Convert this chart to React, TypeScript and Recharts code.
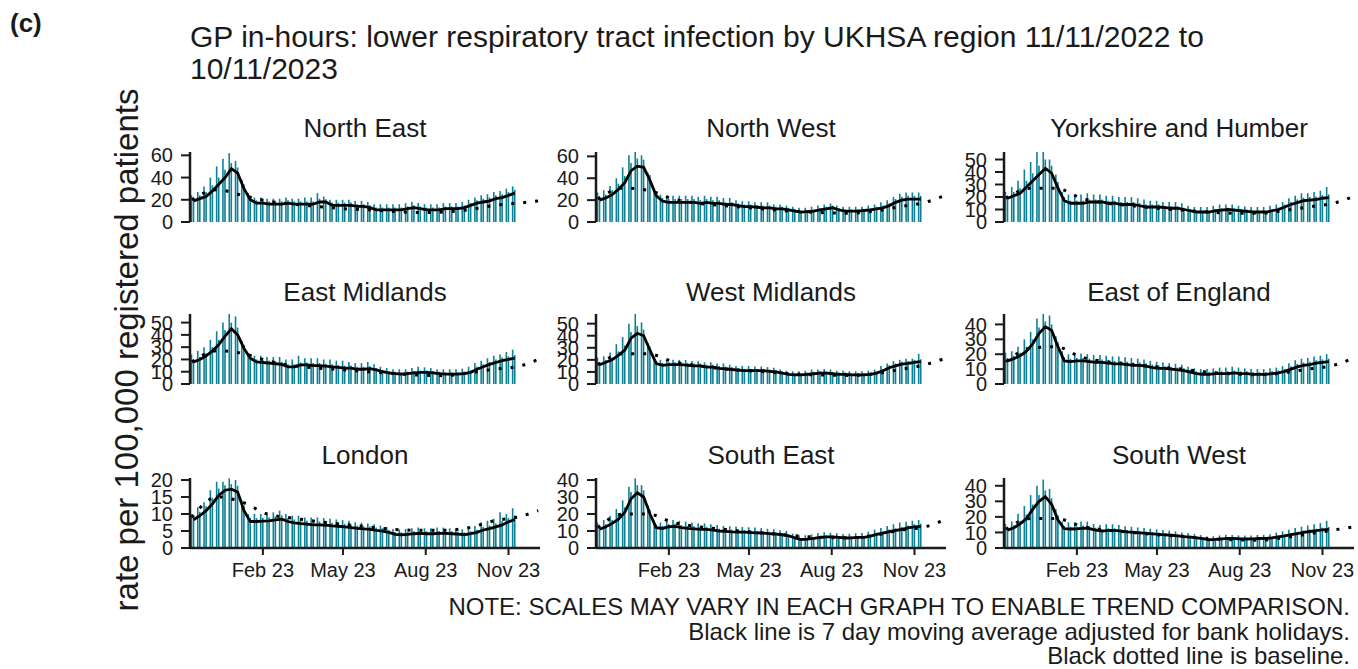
import React from "react";
import { Bar, ComposedChart, Line, XAxis, YAxis } from "recharts";

const FONT = '"Liberation Sans", Arial, sans-serif';
const TEAL = "#0b8196";
const INK = "#1a1a1a";

// Monday of each week in the window 11/11/2022 – 10/11/2023
const WEEKS = [
  "2022-11-14", "2022-11-21", "2022-11-28", "2022-12-05", "2022-12-12", "2022-12-19", "2022-12-26",
  "2023-01-02", "2023-01-09", "2023-01-16", "2023-01-23", "2023-01-30", "2023-02-06", "2023-02-13",
  "2023-02-20", "2023-02-27", "2023-03-06", "2023-03-13", "2023-03-20", "2023-03-27", "2023-04-03",
  "2023-04-10", "2023-04-17", "2023-04-24", "2023-05-01", "2023-05-08", "2023-05-15", "2023-05-22",
  "2023-05-29", "2023-06-05", "2023-06-12", "2023-06-19", "2023-06-26", "2023-07-03", "2023-07-10",
  "2023-07-17", "2023-07-24", "2023-07-31", "2023-08-07", "2023-08-14", "2023-08-21", "2023-08-28",
  "2023-09-04", "2023-09-11", "2023-09-18", "2023-09-25", "2023-10-02", "2023-10-09", "2023-10-16",
  "2023-10-23", "2023-10-30", "2023-11-06",
];
// baseline is sampled every 4 weeks and runs a little past the data
const BASE_DATES = [
  "2022-11-14", "2022-12-12", "2023-01-09", "2023-02-06", "2023-03-06", "2023-04-03", "2023-05-01",
  "2023-05-29", "2023-06-26", "2023-07-24", "2023-08-21", "2023-09-18", "2023-10-16", "2023-11-13",
  "2023-12-04",
];
const X_TICKS = ["2023-02-01", "2023-05-01", "2023-08-01", "2023-11-01"];
const X_START = "2022-11-12";
const X_END = "2023-12-06";
const MONTHS = ["Jan", "Feb", "Mar", "Apr", "May", "Jun", "Jul", "Aug", "Sep", "Oct", "Nov", "Dec"];

const REGIONS = [
  "North East", "North West", "Yorkshire and Humber",
  "East Midlands", "West Midlands", "East of England",
  "London", "South East", "South West",
];

// ma = 7 day moving average, day = typical weekday rate, peak = highest day of the week
const NE_MA = [19, 21, 23, 28, 34, 40, 48, 44, 30, 20, 17, 17, 16, 16, 16, 17, 16, 16, 16, 16, 18, 18, 15, 15, 15, 15, 14, 14, 13, 11, 11, 11, 11, 11, 12, 13, 12, 11, 11, 11, 12, 12, 12, 13, 15, 17, 18, 19, 21, 22, 24, 26];
const NE_DAY = [21, 24, 27, 33, 40, 47, 53, 49, 34, 23, 19.5, 19.5, 18.5, 18.5, 18.5, 19.5, 18.5, 18.5, 18.5, 18.5, 21, 20.5, 17.5, 17.5, 17.5, 17.5, 16, 16, 15, 13, 13, 13, 13, 13, 14, 15, 14, 13, 13, 13, 14, 14, 14, 15, 17, 19.5, 21, 22, 24, 25, 27, 29];
const NE_PEAK = [24, 27, 32, 40, 50, 57, 62, 55, 38, 26, 22, 22, 21, 21, 21, 22, 21, 21, 22, 22, 26, 23, 20, 20, 20, 20, 19, 19, 18, 16, 16, 16, 16, 16, 17, 18, 17, 16, 16, 16, 17, 17, 17, 18, 20, 22, 24, 25, 27, 28, 30, 32];
const NE_BASE = [20, 29, 24, 19, 16, 14, 12, 11, 9.5, 8.5, 9, 11, 15, 17, 19];

const NW_MA = [20, 22, 25, 30, 36, 47, 51, 50, 38, 24, 19, 18, 18, 18, 18, 18, 17, 18, 17, 17, 16, 16, 15, 14, 14, 13.5, 13, 13, 12, 12, 11, 10, 9, 9.5, 10, 11, 12, 13, 11, 10, 10, 10, 10.5, 11, 12, 13, 15, 18, 20, 21, 21, 21];
const NW_DAY = [23, 25, 29, 35, 42, 54, 58, 57, 43, 27, 22, 21, 21, 21, 21, 21, 20, 21, 20, 20, 18, 18, 17, 16, 16, 15.5, 15, 15, 14, 14, 13, 12, 10.5, 11, 11.5, 12.5, 14, 15, 12.5, 11.5, 11.5, 11.5, 12, 12.5, 14, 15, 17, 21, 23, 24, 24, 24];
const NW_PEAK = [27, 29, 33, 40, 50, 61, 64, 61, 45, 30, 25, 24, 24, 24, 24, 24, 23, 24, 23, 23, 22, 22, 20, 19, 19, 18, 18, 18, 16, 16, 15, 14, 13, 13, 14, 15, 16, 17, 15, 14, 14, 14, 14, 15, 16, 18, 20, 23, 26, 27, 27, 27];
const NW_BASE = [21, 31, 29, 21, 17, 15, 13, 11, 9.5, 8.5, 8, 10, 14, 18, 24];

const YH_MA = [19, 21, 23, 28, 33, 38, 43, 39, 27, 17, 15, 15, 15, 16, 16, 16, 15, 15, 14, 14, 14, 13, 12, 12, 12, 11.5, 11, 11, 10, 9, 8, 8, 8, 9, 9.5, 10, 9.5, 9, 8.5, 8, 8, 8, 9, 10, 12, 14, 15.5, 17, 17.5, 18, 19, 19.5];
const YH_DAY = [21, 24, 27, 33, 39, 45, 50, 45, 32, 20, 17, 17, 17, 18, 18, 18, 17, 17, 16, 16, 16, 15, 14, 14, 14, 13, 12.5, 12.5, 11.5, 10.5, 9, 9, 9, 10, 11, 11.5, 11, 10.5, 10, 9, 9, 9, 10, 11.5, 14, 16, 18, 19.5, 20, 20.5, 21.5, 22];
const YH_PEAK = [24, 28, 33, 42, 48, 56, 56, 50, 38, 24, 22, 22, 22, 23, 22, 22, 21, 21, 20, 20, 20, 19, 18, 17, 17, 16, 16, 16, 15, 13, 12, 12, 12, 13, 14, 14, 14, 13, 12.5, 12, 12, 12, 13, 14, 16, 19, 21, 23, 23, 24, 25, 28];
const YH_BASE = [19, 27, 27, 19, 15, 13, 11, 9.5, 8, 7, 7, 9, 12, 15, 20];

const EM_MA = [18, 20, 23, 27, 32, 39, 45, 40, 29, 21, 18, 17.5, 17, 16.5, 16, 14, 14, 15.5, 15.5, 15, 15, 14.5, 14, 13.5, 13, 13, 12, 12, 12.5, 11.5, 10, 9, 8.5, 8, 8.5, 9, 9.5, 9.5, 9, 8.5, 8, 8, 8, 8.5, 9.5, 12, 14, 16, 17.5, 19, 20, 21];
const EM_DAY = [20, 22, 25, 30, 36, 44, 50, 46, 32, 23, 20, 19.5, 19, 18.5, 18, 16, 16, 17.5, 17.5, 17, 17, 16.5, 16, 15.5, 15, 15, 14, 14, 14.5, 13, 11.5, 10.5, 10, 9.5, 10, 10.5, 11, 11, 10.5, 10, 9.5, 9.5, 9.5, 10, 11, 14, 16, 18, 20, 21.5, 22.5, 23.5];
const EM_PEAK = [24, 27, 30, 36, 43, 50, 57, 55, 35, 25, 23, 23, 22, 22, 22, 20, 20, 23, 21, 21, 21, 20, 20, 19, 19, 18, 17, 17, 18, 16, 14, 13, 12, 12, 12, 13, 14, 13.5, 13, 12, 12, 12, 12, 12.5, 14, 17, 19, 21, 23, 24, 26, 28];
const EM_BASE = [18, 27, 25, 19, 15, 13, 11.5, 10, 8.5, 7.3, 6.8, 9, 12, 14.5, 20];

const WM_MA = [16, 18, 20, 24, 28, 38, 42, 40, 28, 17, 15.5, 16, 16, 16, 15.5, 15, 15, 14, 14, 13, 12.5, 12, 11.5, 11, 11, 11, 11, 10.5, 10, 9, 8, 7.5, 7.5, 8, 8.5, 9, 9, 8.5, 8, 8, 7.5, 7.5, 7.5, 8, 9, 11, 13.5, 15, 16.5, 17, 18, 18.5];
const WM_DAY = [18, 20, 22, 27, 32, 43, 48, 45, 31, 19, 17.5, 18, 18, 18, 17.5, 17, 17, 16, 16, 15, 14.5, 14, 13, 12.5, 12.5, 12.5, 12.5, 12, 11.5, 10.5, 9.5, 9, 9, 9.5, 10, 10.5, 10.5, 10, 9.5, 9.5, 9, 9, 9, 9.5, 10.5, 12.5, 15.5, 17, 18.5, 19, 20, 20.5];
const WM_PEAK = [22, 23, 26, 33, 39, 50, 58, 51, 34, 22, 20, 20, 20, 20, 20, 19, 19, 18, 18, 17, 17, 16, 15, 15, 15, 14.5, 14.5, 14, 13.5, 12, 11, 10.5, 10.5, 11, 12, 12, 12.5, 12, 11, 11, 10.5, 10.5, 10.5, 11, 12, 15, 17, 19, 20, 21, 21, 25];
const WM_BASE = [16, 25, 25, 18.5, 15, 12.5, 11, 9.5, 8, 7.5, 7, 8.5, 12, 16, 21];

const EE_MA = [15.5, 17, 19, 22, 27, 34, 38.5, 36, 25, 15.5, 15, 15.5, 15.5, 15, 14.5, 14.5, 14, 13.5, 13.5, 13, 12.5, 12.5, 12, 11, 10.5, 10.5, 10, 9.5, 9, 8, 7, 6.5, 6.5, 7, 7, 7, 7.5, 7, 7, 6.5, 6.5, 6.5, 7, 7.5, 8.5, 10, 11.5, 12.5, 13, 14, 14.5, 15];
const EE_DAY = [17.5, 19, 21, 25, 30, 38, 42, 40, 28, 18, 17, 17.5, 17.5, 17, 16.5, 16.5, 16, 15.5, 15.5, 15, 14.5, 14.5, 14, 13, 12.5, 12, 11.5, 11, 10.5, 9.5, 8.5, 8, 8, 8.5, 8.5, 8.5, 9, 8.5, 8.5, 8, 8, 8, 8.5, 9, 10, 12, 13.5, 14.5, 15, 16, 16.5, 17];
const EE_PEAK = [21, 22, 25, 30, 35, 44, 47, 46, 32, 22, 20, 20.5, 20.5, 20, 19.5, 19.5, 19, 18.5, 18.5, 18, 17.5, 17, 16.5, 15.5, 15, 14.5, 14, 13.5, 13, 11.5, 10.5, 10, 10, 10.5, 11, 11, 11.5, 11, 10.5, 10, 10, 10, 10.5, 11, 12, 14, 16, 17, 17.5, 18.5, 19, 20];
const EE_BASE = [15, 24, 25, 18, 15, 13, 11.5, 10, 8, 6.8, 6.2, 7.5, 10, 12.5, 17];

const LO_MA = [8.3, 9.5, 11, 13, 15.5, 17, 17.3, 16.5, 11, 7.8, 7.8, 7.9, 8, 8.3, 8.5, 7.8, 7.4, 7.2, 7, 6.8, 6.8, 6.7, 6.5, 6.4, 6.2, 6, 5.8, 5.6, 5.5, 5.2, 5, 4.6, 4, 3.9, 4, 4.2, 4.3, 4.2, 4.2, 4.3, 4.3, 4.2, 4.1, 3.9, 4.2, 4.6, 5.3, 5.7, 6.2, 6.8, 7.7, 8.4];
const LO_DAY = [9.2, 10.7, 12.3, 14.8, 17.5, 18.5, 18.8, 18.3, 12.5, 8.8, 8.8, 8.9, 9, 9.3, 9.6, 8.8, 8.4, 8.2, 8, 7.8, 7.8, 7.6, 7.4, 7.3, 7.1, 6.9, 6.6, 6.4, 6.3, 6, 5.8, 5.3, 4.7, 4.6, 4.7, 4.9, 5, 4.9, 4.9, 5, 5, 4.9, 4.8, 4.6, 4.9, 5.4, 6.2, 6.6, 7.2, 7.9, 8.8, 9.6];
const LO_PEAK = [10, 12, 13.5, 17, 19.5, 19.5, 20.5, 20, 14, 10, 10, 10, 10, 10.5, 11, 10, 9.5, 9.5, 9, 9, 9, 8.8, 8.6, 8.4, 8.2, 8, 7.6, 7.4, 7.2, 7, 6.6, 6.2, 5.6, 5.5, 5.6, 5.8, 6, 5.8, 5.8, 6, 6, 5.8, 5.7, 5.5, 6, 6.5, 7.5, 8, 8.6, 10.5, 10, 11.7];
const LO_BASE = [9, 15, 13.5, 10, 8.8, 7.8, 7, 6.2, 5.5, 5.2, 5.2, 6, 8, 9.2, 11];

const SE_MA = [11, 12.5, 14.5, 17, 21, 29, 32.5, 30, 20, 12, 11.5, 12.5, 12.7, 12, 11.5, 11.3, 11, 11, 10.5, 10, 9.8, 9.5, 9.4, 9.3, 9.1, 8.9, 8.7, 8.4, 8.2, 7.8, 7.2, 6, 5, 5.2, 5.6, 6.3, 6.6, 6.5, 6.2, 5.9, 6, 6.2, 6.3, 7, 8, 8.8, 9.7, 10.3, 11, 11.8, 12.4, 12.7];
const SE_DAY = [12.5, 14, 16.5, 19.5, 24, 33, 37, 34, 22.5, 13.5, 13, 14, 14.3, 13.5, 13, 12.8, 12.5, 12.5, 12, 11.3, 11, 10.8, 10.6, 10.5, 10.3, 10, 9.8, 9.5, 9.2, 8.8, 8, 6.8, 5.7, 5.9, 6.3, 7.1, 7.4, 7.3, 7, 6.7, 6.8, 7, 7.1, 7.9, 9, 9.9, 10.9, 11.6, 12.4, 13.3, 14, 14.3];
const SE_PEAK = [15, 16.5, 19, 23, 28, 36, 41, 37, 25, 16, 15, 16, 16.5, 16, 15.5, 15, 14.5, 14.5, 14, 13.5, 13, 12.8, 12.6, 12.4, 12.2, 12, 11.7, 11.3, 11, 10.5, 10, 8.5, 7.5, 7.5, 8, 8.8, 9.2, 9, 8.7, 8.3, 8.4, 8.7, 8.8, 9.6, 10.8, 11.8, 13, 14, 15, 15.5, 16, 16.5];
const SE_BASE = [12, 20, 20, 15, 12.5, 11, 9.5, 8.3, 7, 6.2, 6, 7.5, 10.5, 12.5, 16.5];

const SW_MA = [11.5, 13, 15.5, 19, 25, 30, 33, 28, 18, 12.5, 12.2, 12.3, 12.8, 12.5, 11.5, 10.8, 11.3, 11.3, 10.8, 10.3, 10, 9.7, 9.4, 9.1, 8.8, 8.5, 8.2, 7.8, 7.3, 7, 6.5, 6, 5.3, 5.5, 5.9, 6.2, 6.1, 5.9, 5.8, 5.9, 6.1, 6.2, 6.5, 7.2, 7.8, 8.6, 9.3, 10, 10.6, 11.1, 11.7, 12];
const SW_DAY = [13, 14.5, 17.5, 21.5, 28, 34, 37, 32, 21, 14, 13.7, 13.8, 14.4, 14, 13, 12.1, 12.7, 12.7, 12.1, 11.6, 11.2, 10.9, 10.6, 10.2, 9.9, 9.5, 9.2, 8.8, 8.2, 7.9, 7.3, 6.8, 6, 6.2, 6.6, 7, 6.9, 6.6, 6.5, 6.6, 6.9, 7, 7.3, 8.1, 8.8, 9.7, 10.4, 11.2, 11.9, 12.4, 13.1, 13.5];
const SW_PEAK = [15.5, 17, 22, 27, 34, 40, 44, 38, 25, 17, 16.5, 16.5, 17, 17, 15.5, 14.8, 15.3, 15.3, 14.8, 14, 13.6, 13.2, 12.8, 12.4, 12, 11.6, 11.2, 10.7, 10, 9.6, 9, 8.3, 7.4, 7.6, 8.1, 8.5, 8.4, 8.1, 8, 8.1, 8.4, 8.5, 8.9, 9.9, 10.7, 11.8, 12.8, 13.7, 14.5, 15.2, 16, 17.5];
const SW_BASE = [12, 19, 19, 14, 11.5, 10, 8.5, 7.5, 6, 5.3, 5, 6.5, 9, 11.5, 13.5];

const Y_TICKS = [
  [0, 20, 40, 60], [0, 20, 40, 60], [0, 10, 20, 30, 40, 50],
  [0, 10, 20, 30, 40, 50], [0, 10, 20, 30, 40, 50], [0, 10, 20, 30, 40],
  [0, 5, 10, 15, 20], [0, 10, 20, 30, 40], [0, 10, 20, 30, 40],
];
const Y_MAX = [63, 64, 56, 57, 58, 47, 20.6, 41.2, 45];

const SERIES = [
  { ma: NE_MA, day: NE_DAY, peak: NE_PEAK, base: NE_BASE },
  { ma: NW_MA, day: NW_DAY, peak: NW_PEAK, base: NW_BASE },
  { ma: YH_MA, day: YH_DAY, peak: YH_PEAK, base: YH_BASE },
  { ma: EM_MA, day: EM_DAY, peak: EM_PEAK, base: EM_BASE },
  { ma: WM_MA, day: WM_DAY, peak: WM_PEAK, base: WM_BASE },
  { ma: EE_MA, day: EE_DAY, peak: EE_PEAK, base: EE_BASE },
  { ma: LO_MA, day: LO_DAY, peak: LO_PEAK, base: LO_BASE },
  { ma: SE_MA, day: SE_DAY, peak: SE_PEAK, base: SE_BASE },
  { ma: SW_MA, day: SW_DAY, peak: SW_PEAK, base: SW_BASE },
];

// layout
const COL_LEFT = [190, 596, 1004];
const ROW_TOP = [152, 314, 478];
const STRIP_Y = [128, 292, 455];
const PLOT_W = 350;
const PLOT_H = 70;
const YW = 70;
const MT = 12;
const MB = 12;
const MR = 6;
const XH = 45;

const DAY_MS = 86400000;
const ts = (s: string) => Date.parse(s);
const X0 = ts(X_START);
const X1 = ts(X_END);
const fmtMonth = (v: number) => {
  const d = new Date(v);
  return `${MONTHS[d.getUTCMonth()]} ${String(d.getUTCFullYear()).slice(2)}`;
};

const AXIS_LINE = { stroke: INK, strokeWidth: 2.5 };
const TICK_TEXT = { fontSize: 20, fill: INK, fontFamily: FONT };

function Panel({ idx }: { idx: number }) {
  const s = SERIES[idx];
  const col = idx % 3;
  const row = Math.floor(idx / 3);
  const bottom = row === 2;
  const rows = WEEKS.map((w, i) => ({
    mon: ts(w),
    mid: ts(w) + 2 * DAY_MS,
    ma: s.ma[i],
    day: s.day[i],
    peak: s.peak[i],
  }));
  const baseRows = BASE_DATES.map((d, i) => ({ mid: ts(d), base: s.base[i] }));
  const left = COL_LEFT[col];
  const top = ROW_TOP[row];

  return (
    <>
      <div
        style={{
          position: "absolute", left, top: STRIP_Y[row] - 16, width: PLOT_W,
          textAlign: "center", fontSize: 26, lineHeight: "32px", color: INK,
        }}
      >
        {REGIONS[idx]}
      </div>
      <div style={{ position: "absolute", left: left - YW, top: top - MT }}>
        <ComposedChart
          width={YW + PLOT_W + MR}
          height={MT + PLOT_H + (bottom ? XH : MB)}
          data={rows}
          margin={{ top: MT, right: MR, bottom: bottom ? 0 : MB, left: 0 }}
          style={{ fontFamily: FONT }}
        >
          <XAxis
            xAxisId="mid"
            dataKey="mid"
            type="number"
            domain={[X0, X1]}
            allowDataOverflow
            ticks={X_TICKS.map(ts)}
            tickFormatter={fmtMonth}
            interval={0}
            hide={!bottom}
            height={XH}
            axisLine={AXIS_LINE}
            tickLine={{ stroke: INK, strokeWidth: 2 }}
            tickSize={7}
            tickMargin={8}
            tick={TICK_TEXT}
          />
          <XAxis xAxisId="mon" dataKey="mon" type="number" domain={[X0, X1]} allowDataOverflow hide />
          <YAxis
            domain={[0, Y_MAX[idx]]}
            ticks={Y_TICKS[idx]}
            interval={0}
            allowDataOverflow
            width={YW}
            axisLine={AXIS_LINE}
            tickLine={{ stroke: INK, strokeWidth: 2 }}
            tickSize={9}
            tickMargin={8}
            tick={TICK_TEXT}
          />
          <Bar xAxisId="mid" dataKey="day" fill={TEAL} barSize={5} isAnimationActive={false} />
          <Bar xAxisId="mon" dataKey="peak" fill={TEAL} barSize={1.6} isAnimationActive={false} />
          <Line
            xAxisId="mid"
            data={baseRows}
            dataKey="base"
            type="monotone"
            stroke="#000"
            strokeWidth={3}
            strokeDasharray="3 9"
            dot={false}
            isAnimationActive={false}
          />
          <Line
            xAxisId="mid"
            dataKey="ma"
            type="linear"
            stroke="#000"
            strokeWidth={2.8}
            dot={false}
            isAnimationActive={false}
          />
        </ComposedChart>
      </div>
    </>
  );
}

export default function App() {
  return (
    <div
      style={{
        position: "absolute", left: 0, top: 0, width: 1358, height: 669,
        background: "#fff", fontFamily: FONT, color: INK, overflow: "hidden",
      }}
    >
      <div style={{ position: "absolute", left: 10, top: 8, fontSize: 26, fontWeight: "bold" }}>(c)</div>
      <div style={{ position: "absolute", left: 190, top: 21, fontSize: 30, lineHeight: "32px", width: 1150 }}>
        GP in-hours: lower respiratory tract infection by UKHSA region 11/11/2022 to
        <br />
        10/11/2023
      </div>
      <div
        style={{
          position: "absolute", left: 127 - 300, top: 350 - 20, width: 600, height: 40,
          lineHeight: "40px", textAlign: "center", fontSize: 33, transform: "rotate(-90deg)",
        }}
      >
        rate per 100,000 registered patients
      </div>
      {REGIONS.map((_, i) => (
        <Panel key={i} idx={i} />
      ))}
      <div
        style={{
          position: "absolute", right: 8, top: 595, textAlign: "right",
          fontSize: 24, lineHeight: "24.7px",
        }}
      >
        NOTE: SCALES MAY VARY IN EACH GRAPH TO ENABLE TREND COMPARISON.
        <br />
        Black line is 7 day moving average adjusted for bank holidays.
        <br />
        Black dotted line is baseline.
      </div>
    </div>
  );
}
